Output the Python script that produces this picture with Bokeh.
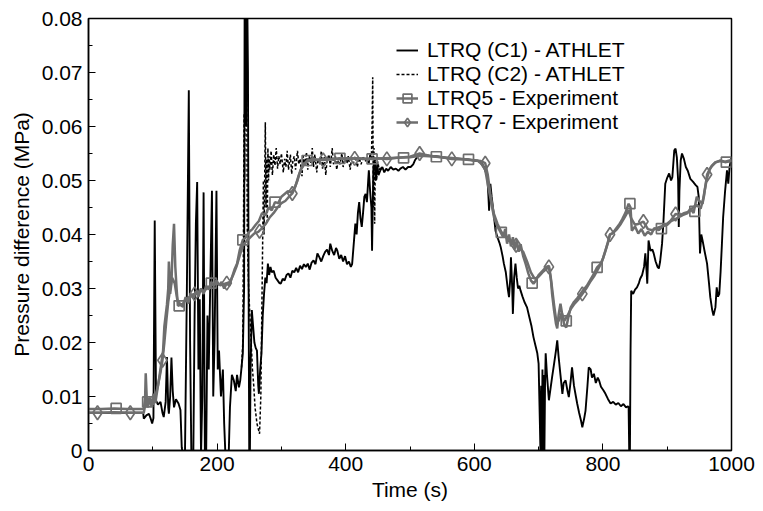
from bokeh.plotting import figure
from bokeh.models import (Range1d, Legend, LegendItem, FixedTicker,
                          CustomJSTickFormatter)
from bokeh.embed import file_html
from bokeh.resources import INLINE

# ---------------- data ----------------
c1_t = [0, 50, 85, 86, 90, 94, 97, 99, 101, 103, 105, 108, 112, 115, 117, 120, 122, 124, 125, 127,
        129, 131, 133, 136, 140, 143, 145, 147, 150, 153, 156, 158, 160, 163, 165, 167, 169, 171, 173, 175,
        177, 179, 181, 183, 185, 187, 190, 192, 194, 196, 199, 201, 203, 206, 209, 211, 213, 216, 218, 220,
        223, 226, 229, 231, 234, 236, 238, 240, 242, 243, 245, 246, 248, 249, 250, 251, 252, 254, 256, 258,
        260, 262, 264, 265, 267, 269, 271, 273, 275, 277, 279, 281, 283, 285, 288, 291, 294, 297, 299, 302,
        305, 308, 311, 314, 317, 320, 323, 326, 329, 332, 335, 338, 341, 344, 347, 350, 353, 356, 359, 362,
        365, 368, 371, 374, 376, 379, 382, 385, 387, 390, 393, 396, 399, 402, 405, 408, 410, 413, 415, 417,
        419, 421, 423, 425, 427, 429, 431, 433, 435, 436, 438, 440, 441, 443, 445, 447, 449, 451, 454, 457,
        460, 463, 466, 470, 474, 478, 482, 485, 489, 493, 497, 501, 505, 508, 511, 515, 520, 530, 540, 550,
        560, 570, 580, 590, 600, 610, 615, 618, 620, 622, 623, 625, 627, 630, 633, 636, 639, 641, 644, 646,
        649, 652, 654, 656, 657, 659, 660, 662, 664, 666, 668, 670, 672, 675, 678, 682, 686, 689, 692, 695,
        698, 700, 702, 703, 704, 705, 706, 707, 708, 709, 710, 711, 713, 716, 718, 721, 724, 727, 729, 731,
        734, 737, 739, 742, 745, 747, 750, 752, 755, 758, 760, 763, 766, 768, 771, 773, 776, 778, 781, 783,
        786, 789, 792, 794, 797, 801, 804, 808, 812, 816, 820, 824, 828, 832, 836, 839, 840, 841, 842, 843,
        844, 847, 850, 853, 856, 858, 861, 864, 866, 868, 869, 871, 874, 877, 879, 882, 885, 887, 889, 892,
        894, 897, 900, 903, 906, 908, 911, 913, 915, 917, 918, 919, 921, 923, 926, 929, 932, 936, 940, 944,
        947, 949, 951, 953, 955, 958, 962, 965, 967, 970, 972, 975, 977, 979, 981, 983, 985, 987, 990, 993,
        995, 997, 1000]
c1_v = [0.0070, 0.0070, 0.0070, 0.0059, 0.0065, 0.0068, 0.0058, 0.0050, 0.0060, 0.0426, 0.0093, 0.0085, 0.0090, 0.0070, 0.0062, 0.0090, 0.0173, 0.0080, 0.0068, 0.0100,
        0.0172, 0.0110, 0.0080, 0.0095, 0.0087, 0.0075, 0.0006, -0.001, -0.001, 0.0300, 0.0667, 0.0200, -0.001, -0.001, 0.0250, 0.0420, 0.0497, 0.0150, 0.0280, -0.001,
        0.0100, 0.0478, -0.001, -0.001, 0.0250, 0.0150, 0.0350, 0.0481, 0.0100, 0.0200, 0.0481, 0.0150, 0.0185, 0.0100, 0.0150, 0.0050, -0.001, -0.001, -0.001, 0.0080,
        0.0140, 0.0130, 0.0110, 0.0140, 0.0117, 0.0130, 0.0154, 0.0180, 0.0300, 0.0950, 0.0600, 0.0950, 0.0700, 0.0300, -0.001, -0.001, 0.0150, 0.0260, 0.0230, 0.0200,
        0.0190, 0.0185, 0.0120, 0.0105, 0.0150, 0.0180, 0.0250, 0.0290, 0.0320, 0.0310, 0.0346, 0.0325, 0.0340, 0.0330, 0.0333, 0.0320, 0.0315, 0.0310, 0.0309, 0.0318,
        0.0315, 0.0325, 0.0328, 0.0320, 0.0333, 0.0330, 0.0338, 0.0330, 0.0342, 0.0336, 0.0345, 0.0340, 0.0346, 0.0335, 0.0348, 0.0352, 0.0345, 0.0365, 0.0358, 0.0350,
        0.0360, 0.0368, 0.0372, 0.0362, 0.0383, 0.0370, 0.0362, 0.0375, 0.0370, 0.0355, 0.0362, 0.0350, 0.0360, 0.0345, 0.0350, 0.0340, 0.0345, 0.0390, 0.0420, 0.0400,
        0.0440, 0.0460, 0.0430, 0.0414, 0.0440, 0.0470, 0.0475, 0.0460, 0.0500, 0.0519, 0.0480, 0.0450, 0.0370, 0.0520, 0.0540, 0.0500, 0.0530, 0.0510, 0.0519, 0.0525,
        0.0515, 0.0522, 0.0518, 0.0525, 0.0520, 0.0522, 0.0518, 0.0522, 0.0525, 0.0520, 0.0525, 0.0525, 0.0530, 0.0538, 0.0543, 0.0548, 0.0547, 0.0546, 0.0545, 0.0543,
        0.0541, 0.0541, 0.0540, 0.0539, 0.0537, 0.0535, 0.0525, 0.0515, 0.0513, 0.0470, 0.0444, 0.0494, 0.0470, 0.0440, 0.0407, 0.0395, 0.0385, 0.0377, 0.0360, 0.0346,
        0.0330, 0.0300, 0.0284, 0.0320, 0.0358, 0.0300, 0.0253, 0.0320, 0.0346, 0.0320, 0.0300, 0.0305, 0.0296, 0.0285, 0.0275, 0.0265, 0.0245, 0.0230, 0.0210, 0.0195,
        0.0180, 0.0161, 0.0050, -0.001, 0.0120, -0.001, 0.0150, -0.001, 0.0140, -0.001, 0.0120, 0.0180, 0.0140, 0.0093, 0.0110, 0.0136, 0.0160, 0.0185, 0.0204, 0.0175,
        0.0140, 0.0105, 0.0125, 0.0130, 0.0110, 0.0099, 0.0130, 0.0154, 0.0120, 0.0100, 0.0087, 0.0070, 0.0055, 0.0043, 0.0060, 0.0074, 0.0120, 0.0154, 0.0150, 0.0135,
        0.0142, 0.0125, 0.0135, 0.0130, 0.0118, 0.0111, 0.0105, 0.0095, 0.0087, 0.0090, 0.0085, 0.0088, 0.0082, 0.0086, 0.0080, 0.0082, 0.0080, -0.001, -0.001, 0.0185,
        0.0296, 0.0290, 0.0298, 0.0302, 0.0310, 0.0318, 0.0325, 0.0340, 0.0365, 0.0330, 0.0309, 0.0389, 0.0370, 0.0372, 0.0365, 0.0350, 0.0340, 0.0337, 0.0350, 0.0383,
        0.0420, 0.0494, 0.0505, 0.0513, 0.0500, 0.0506, 0.0556, 0.0559, 0.0543, 0.0500, 0.0414, 0.0480, 0.0537, 0.0550, 0.0540, 0.0525, 0.0518, 0.0503, 0.0498, 0.0492,
        0.0488, 0.0470, 0.0365, 0.0400, 0.0389, 0.0370, 0.0346, 0.0310, 0.0284, 0.0260, 0.0250, 0.0265, 0.0302, 0.0285, 0.0290, 0.0330, 0.0380, 0.0432, 0.0480, 0.0519,
        0.0494, 0.0525, 0.0543]

c2_t = [238, 240, 241, 242, 243, 244, 245, 246, 247, 249, 251, 253, 255, 257, 259, 262, 264, 266, 268, 270,
        272, 273, 275, 276, 277, 278, 279, 280, 281, 282, 284, 286, 288, 290, 292, 294, 296, 298, 300, 303,
        305, 307, 309, 311, 314, 316, 318, 320, 322, 325, 327, 329, 332, 334, 336, 339, 341, 343, 346, 348,
        350, 352, 355, 357, 360, 362, 364, 367, 369, 371, 374, 376, 379, 381, 384, 386, 389, 391, 394, 396,
        399, 402, 404, 407, 409, 412, 415, 418, 421, 424, 427, 430, 433, 436, 438, 440, 441, 442, 443, 444,
        445, 446, 448, 450, 452, 455]
c2_v = [0.0154, 0.0200, 0.0400, 0.0624, 0.0500, 0.0800, 0.0950, 0.0700, 0.0400, 0.0300, 0.0250, 0.0200, 0.0150, 0.0120, 0.0080, 0.0050, 0.0040, 0.0031, 0.0100, 0.0300,
        0.0500, 0.0400, 0.0608, 0.0450, 0.0540, 0.0420, 0.0560, 0.0500, 0.0545, 0.0520, 0.0555, 0.0510, 0.0548, 0.0528, 0.0560, 0.0522, 0.0545, 0.0530, 0.0550, 0.0515,
        0.0540, 0.0525, 0.0555, 0.0520, 0.0548, 0.0512, 0.0538, 0.0545, 0.0520, 0.0555, 0.0530, 0.0540, 0.0508, 0.0545, 0.0528, 0.0552, 0.0520, 0.0545, 0.0533, 0.0560,
        0.0525, 0.0548, 0.0515, 0.0540, 0.0530, 0.0555, 0.0522, 0.0545, 0.0510, 0.0538, 0.0548, 0.0525, 0.0560, 0.0530, 0.0545, 0.0520, 0.0542, 0.0530, 0.0550, 0.0525,
        0.0540, 0.0532, 0.0545, 0.0520, 0.0540, 0.0532, 0.0545, 0.0525, 0.0542, 0.0530, 0.0545, 0.0535, 0.0540, 0.0530, 0.0550, 0.0540, 0.0600, 0.0691, 0.0450, 0.0560,
        0.0420, 0.0540, 0.0500, 0.0535, 0.0520, 0.0525]

q5_t = [0, 20, 40, 60, 86, 88, 89, 91, 95, 98, 101, 104, 107, 110, 113, 116, 118, 120, 122, 124,
        125, 127, 129, 131, 133, 135, 137, 139, 143, 147, 151, 155, 159, 163, 167, 171, 175, 179, 183, 187,
        191, 195, 199, 203, 207, 211, 215, 219, 223, 227, 231, 235, 240, 245, 250, 255, 260, 265, 270, 275,
        280, 285, 290, 295, 300, 305, 310, 315, 320, 325, 330, 335, 340, 350, 360, 370, 380, 390, 400, 420,
        440, 460, 480, 500, 515, 530, 550, 570, 590, 605, 612, 617, 620, 623, 627, 631, 636, 641, 645, 648,
        651, 654, 657, 660, 663, 666, 669, 672, 676, 680, 684, 688, 692, 696, 700, 704, 708, 712, 716, 719,
        721, 724, 727, 729, 731, 734, 737, 740, 743, 746, 750, 755, 760, 765, 770, 775, 780, 785, 791, 796,
        800, 804, 808, 811, 815, 820, 825, 830, 835, 840, 843, 845, 850, 855, 860, 865, 870, 875, 880, 887,
        893, 900, 906, 912, 918, 924, 931, 936, 941, 946, 950, 955, 958, 962, 966, 970, 975, 982, 990, 996,
        1000]
q5_v = [0.0077, 0.0077, 0.0078, 0.0077, 0.0077, 0.0095, 0.0143, 0.0085, 0.0098, 0.0082, 0.0105, 0.0088, 0.0112, 0.0135, 0.0160, 0.0185, 0.0230, 0.0250, 0.0270, 0.0300,
        0.0350, 0.0290, 0.0310, 0.0380, 0.0420, 0.0340, 0.0300, 0.0268, 0.0270, 0.0266, 0.0284, 0.0272, 0.0290, 0.0282, 0.0295, 0.0285, 0.0300, 0.0290, 0.0305, 0.0298,
        0.0312, 0.0305, 0.0315, 0.0306, 0.0312, 0.0300, 0.0310, 0.0305, 0.0320, 0.0335, 0.0346, 0.0370, 0.0390, 0.0395, 0.0405, 0.0410, 0.0418, 0.0425, 0.0440, 0.0435,
        0.0450, 0.0445, 0.0460, 0.0458, 0.0470, 0.0475, 0.0480, 0.0478, 0.0485, 0.0500, 0.0520, 0.0530, 0.0537, 0.0540, 0.0538, 0.0541, 0.0539, 0.0541, 0.0540, 0.0541,
        0.0540, 0.0541, 0.0542, 0.0543, 0.0546, 0.0545, 0.0543, 0.0541, 0.0539, 0.0537, 0.0530, 0.0520, 0.0500, 0.0480, 0.0455, 0.0430, 0.0415, 0.0404, 0.0395, 0.0410,
        0.0383, 0.0400, 0.0378, 0.0395, 0.0372, 0.0390, 0.0368, 0.0382, 0.0360, 0.0345, 0.0328, 0.0315, 0.0309, 0.0315, 0.0325, 0.0330, 0.0335, 0.0340, 0.0342, 0.0320,
        0.0290, 0.0260, 0.0235, 0.0226, 0.0250, 0.0272, 0.0250, 0.0232, 0.0228, 0.0245, 0.0265, 0.0275, 0.0282, 0.0290, 0.0298, 0.0305, 0.0315, 0.0325, 0.0339, 0.0345,
        0.0355, 0.0370, 0.0385, 0.0400, 0.0402, 0.0410, 0.0418, 0.0428, 0.0440, 0.0457, 0.0450, 0.0407, 0.0415, 0.0402, 0.0410, 0.0398, 0.0405, 0.0400, 0.0412, 0.0408,
        0.0415, 0.0418, 0.0425, 0.0428, 0.0432, 0.0436, 0.0439, 0.0448, 0.0440, 0.0470, 0.0462, 0.0457, 0.0480, 0.0505, 0.0520, 0.0528, 0.0534, 0.0536, 0.0534, 0.0535,
        0.0537]

q7_t = [0, 20, 40, 60, 86, 89, 92, 96, 100, 104, 108, 112, 115, 118, 121, 124, 127, 130, 134, 138,
        142, 146, 150, 155, 160, 165, 170, 175, 180, 185, 190, 195, 200, 205, 210, 215, 220, 225, 230, 235,
        240, 246, 252, 258, 264, 270, 276, 282, 288, 294, 300, 306, 312, 317, 322, 327, 332, 340, 350, 365,
        380, 400, 414, 430, 450, 464, 480, 500, 515, 530, 550, 565, 585, 600, 610, 617, 621, 625, 630, 636,
        642, 648, 654, 660, 665, 670, 676, 682, 688, 694, 700, 706, 712, 716, 720, 724, 728, 732, 736, 740,
        745, 750, 756, 762, 768, 774, 780, 786, 792, 798, 804, 811, 816, 822, 828, 834, 840, 844, 850, 856,
        863, 870, 877, 884, 891, 898, 905, 913, 920, 927, 934, 940, 946, 952, 957, 962, 968, 975, 982, 990,
        1000]
q7_v = [0.0070, 0.0070, 0.0071, 0.0070, 0.0070, 0.0090, 0.0080, 0.0095, 0.0085, 0.0100, 0.0120, 0.0145, 0.0167, 0.0200, 0.0240, 0.0275, 0.0300, 0.0320, 0.0310, 0.0280,
        0.0272, 0.0270, 0.0278, 0.0282, 0.0288, 0.0290, 0.0292, 0.0298, 0.0295, 0.0302, 0.0305, 0.0308, 0.0310, 0.0306, 0.0308, 0.0310, 0.0312, 0.0325, 0.0340, 0.0360,
        0.0380, 0.0388, 0.0395, 0.0402, 0.0405, 0.0412, 0.0420, 0.0432, 0.0440, 0.0450, 0.0458, 0.0462, 0.0470, 0.0476, 0.0490, 0.0510, 0.0525, 0.0535, 0.0538, 0.0538,
        0.0540, 0.0541, 0.0541, 0.0540, 0.0541, 0.0540, 0.0542, 0.0544, 0.0550, 0.0546, 0.0543, 0.0540, 0.0539, 0.0537, 0.0536, 0.0532, 0.0510, 0.0475, 0.0440, 0.0420,
        0.0405, 0.0398, 0.0390, 0.0385, 0.0380, 0.0375, 0.0368, 0.0350, 0.0330, 0.0318, 0.0322, 0.0330, 0.0336, 0.0340, 0.0310, 0.0270, 0.0235, 0.0242, 0.0255, 0.0240,
        0.0250, 0.0262, 0.0272, 0.0280, 0.0290, 0.0300, 0.0312, 0.0322, 0.0335, 0.0348, 0.0370, 0.0400, 0.0403, 0.0410, 0.0420, 0.0432, 0.0445, 0.0430, 0.0418, 0.0420,
        0.0424, 0.0410, 0.0408, 0.0412, 0.0415, 0.0418, 0.0425, 0.0438, 0.0436, 0.0440, 0.0442, 0.0450, 0.0455, 0.0448, 0.0470, 0.0511, 0.0525, 0.0533, 0.0537, 0.0535,
        0.0538]

q5_mark_t = [43, 92, 141, 191, 240, 290, 340, 391, 441, 490, 541, 591, 642, 690, 743, 791, 842, 891, 943, 992]
q5_mark_v = [0.0078, 0.0090, 0.0268, 0.0310, 0.0390, 0.0460, 0.0537, 0.0541, 0.0540, 0.0542, 0.0544, 0.0539, 0.0404, 0.0310, 0.0240, 0.0339, 0.0457, 0.0411, 0.0443, 0.0534]
q7_mark_t = [14, 65, 115, 165, 215, 266, 317, 365, 414, 464, 515, 565, 617, 665, 716, 768, 811, 863, 913, 962]
q7_mark_v = [0.0070, 0.0070, 0.0167, 0.0290, 0.0310, 0.0406, 0.0476, 0.0538, 0.0541, 0.0540, 0.0550, 0.0540, 0.0532, 0.0380, 0.0340, 0.0290, 0.0400, 0.0424, 0.0438, 0.0511]

x_major = [0, 200, 400, 600, 800, 1000]
x_minor = [100, 300, 500, 700, 900]
y_major = [0, 0.01, 0.02, 0.03, 0.04, 0.05, 0.06, 0.07, 0.08]
y_minor = [0.005, 0.015, 0.025, 0.035, 0.045, 0.055, 0.065, 0.075]

labels = ["LTRQ (C1) - ATHLET", "LTRQ (C2) - ATHLET", "LTRQ5 - Experiment", "LTRQ7 - Experiment"]

# ---------------- figure ----------------
FONT = "Liberation Sans"
GRAY = "#6e6e6e"

p = figure(width=763, height=511, output_backend="svg", toolbar_location=None,
           x_range=Range1d(0, 1000), y_range=Range1d(0, 0.08),
           min_border_left=88, min_border_right=32, min_border_top=18, min_border_bottom=61)
p.xgrid.visible = False
p.ygrid.visible = False
p.outline_line_color = "black"
p.outline_line_width = 1.5
p.background_fill_color = "white"
p.border_fill_color = "white"

r_c1 = p.line(c1_t, c1_v, line_color="black", line_width=1.9)
r_c2 = p.line(c2_t, c2_v, line_color="black", line_width=1.5, line_dash="3 2")
r_q7 = p.line(q7_t, q7_v, line_color=GRAY, line_width=2.5)
r_q5 = p.line(q5_t, q5_v, line_color=GRAY, line_width=2.5)
r_m5 = p.scatter(q5_mark_t, q5_mark_v, marker="square", size=10, line_color=GRAY,
                 line_width=1.7, fill_alpha=0)
r_m7 = p.scatter(q7_mark_t, q7_mark_v, marker="diamond", size=14, line_color=GRAY,
                 line_width=1.7, fill_alpha=0)

for ax in (p.xaxis[0], p.yaxis[0]):
    ax.axis_line_color = "black"
    ax.axis_line_width = 1.5
    ax.major_tick_line_color = "black"
    ax.minor_tick_line_color = "black"
    ax.major_tick_in = 7
    ax.major_tick_out = 0
    ax.minor_tick_in = 4
    ax.minor_tick_out = 0
    ax.major_label_text_font = FONT
    ax.major_label_text_font_size = "21px"
    ax.major_label_text_color = "black"
    ax.axis_label_text_font = FONT
    ax.axis_label_text_font_size = "21px"
    ax.axis_label_text_font_style = "normal"
    ax.axis_label_text_color = "black"

p.xaxis.ticker = FixedTicker(ticks=x_major, minor_ticks=x_minor)
p.yaxis.ticker = FixedTicker(ticks=y_major, minor_ticks=y_minor)
p.yaxis.formatter = CustomJSTickFormatter(code="return tick == 0 ? '0' : tick.toFixed(2);")
p.xaxis.axis_label = "Time (s)"
p.yaxis.axis_label = "Pressure difference (MPa)"
p.xaxis.major_label_standoff = 6
p.xaxis.axis_label_standoff = 4
p.yaxis.major_label_standoff = 6
p.yaxis.axis_label_standoff = 6

legend = Legend(items=[
    LegendItem(label=labels[0], renderers=[r_c1]),
    LegendItem(label=labels[1], renderers=[r_c2]),
    LegendItem(label=labels[2], renderers=[r_q5, r_m5]),
    LegendItem(label=labels[3], renderers=[r_q7, r_m7]),
], location=(308, 316))
legend.border_line_alpha = 0
legend.background_fill_alpha = 0
legend.padding = 0
legend.margin = 0
legend.spacing = -2
legend.glyph_width = 22
legend.glyph_height = 22
legend.label_height = 22
legend.label_standoff = 9
legend.label_text_font = FONT
legend.label_text_font_size = "21px"
legend.label_text_line_height = 1.0
legend.label_text_color = "black"
p.add_layout(legend)

open("out.html", "w").write(file_html(p, INLINE))
